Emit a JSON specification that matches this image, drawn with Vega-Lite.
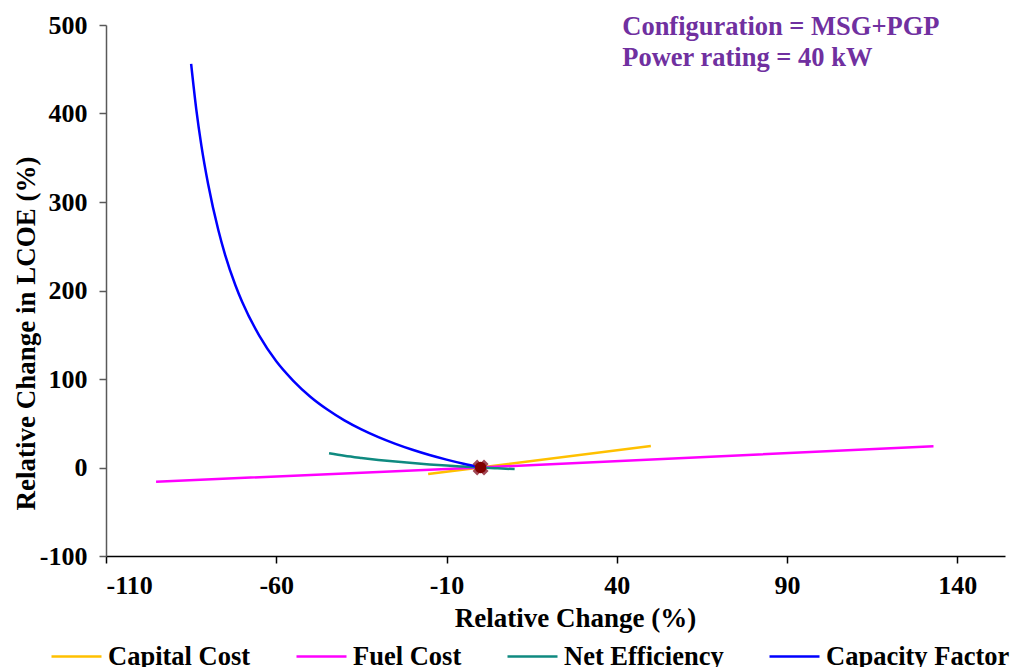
{
  "$schema": "https://vega.github.io/schema/vega-lite/v6.json",
  "width": 899,
  "height": 531,
  "autosize": {"type": "none"},
  "padding": {"left": 106, "top": 25, "right": 12, "bottom": 111},
  "background": "white",
  "config": {
    "view": {"stroke": null},
    "font": "Liberation Serif",
    "axis": {
      "labelFont": "Liberation Serif",
      "labelFontWeight": "bold",
      "labelFontSize": 26,
      "labelColor": "black",
      "titleFont": "Liberation Serif",
      "titleFontWeight": "bold",
      "titleFontSize": 27,
      "titleColor": "black",
      "grid": false,
      "tickSize": 7,
      "tickWidth": 1.5,
      "domainWidth": 1.5
    },
    "legend": {
      "labelFont": "Liberation Serif",
      "labelFontWeight": "bold",
      "labelFontSize": 26.5,
      "labelColor": "black",
      "labelLimit": 400
    }
  },
  "layer": [
    {
      "data": {
        "values": [
          {"series": "Capital Cost", "x": -15.4, "y": -7.3},
          {"series": "Capital Cost", "x": 0, "y": 0},
          {"series": "Capital Cost", "x": 50, "y": 24.3},
          {"series": "Fuel Cost", "x": -95.3, "y": -16},
          {"series": "Fuel Cost", "x": 0, "y": 0},
          {"series": "Fuel Cost", "x": 133, "y": 24},
          {"series": "Net Efficiency", "x": -44.5, "y": 16.2},
          {"series": "Net Efficiency", "x": -40, "y": 13.3},
          {"series": "Net Efficiency", "x": -35, "y": 10.8},
          {"series": "Net Efficiency", "x": -30, "y": 8.6},
          {"series": "Net Efficiency", "x": -25, "y": 6.7},
          {"series": "Net Efficiency", "x": -20, "y": 5.0},
          {"series": "Net Efficiency", "x": -15, "y": 3.5},
          {"series": "Net Efficiency", "x": -10, "y": 2.2},
          {"series": "Net Efficiency", "x": -5, "y": 1.05},
          {"series": "Net Efficiency", "x": 0, "y": 0},
          {"series": "Net Efficiency", "x": 5, "y": -0.95},
          {"series": "Net Efficiency", "x": 10, "y": -1.8},
          {"series": "Capacity Factor", "x": -85, "y": 456},
          {"series": "Capacity Factor", "x": -83.5, "y": 405},
          {"series": "Capacity Factor", "x": -82, "y": 364},
          {"series": "Capacity Factor", "x": -80, "y": 320},
          {"series": "Capacity Factor", "x": -77, "y": 268},
          {"series": "Capacity Factor", "x": -75, "y": 240},
          {"series": "Capacity Factor", "x": -72, "y": 206},
          {"series": "Capacity Factor", "x": -70, "y": 187},
          {"series": "Capacity Factor", "x": -65, "y": 149},
          {"series": "Capacity Factor", "x": -60, "y": 120},
          {"series": "Capacity Factor", "x": -55, "y": 98},
          {"series": "Capacity Factor", "x": -50, "y": 80},
          {"series": "Capacity Factor", "x": -45, "y": 65.5},
          {"series": "Capacity Factor", "x": -40, "y": 53.3},
          {"series": "Capacity Factor", "x": -35, "y": 43.1},
          {"series": "Capacity Factor", "x": -30, "y": 34.3},
          {"series": "Capacity Factor", "x": -25, "y": 26.7},
          {"series": "Capacity Factor", "x": -20, "y": 20},
          {"series": "Capacity Factor", "x": -15, "y": 14.1},
          {"series": "Capacity Factor", "x": -10, "y": 8.9},
          {"series": "Capacity Factor", "x": -5, "y": 4.2},
          {"series": "Capacity Factor", "x": 0, "y": 0}
        ]
      },
      "mark": {"type": "line", "strokeWidth": 2.5, "interpolate": "monotone"},
      "encoding": {
        "x": {
          "field": "x", "type": "quantitative",
          "scale": {"domain": [-110, 154], "nice": false, "zero": false},
          "axis": {
            "values": [-110, -60, -10, 40, 90, 140],
            "labelExpr": "toString(datum.value)",
            "title": "Relative Change (%)",
            "domainColor": "black",
            "tickColor": "black",
            "labelPadding": 9,
            "titleX": 469,
            "titleY": 62,
            "titleBaseline": "middle"
          }
        },
        "y": {
          "field": "y", "type": "quantitative",
          "scale": {"domain": [-100, 500], "nice": false, "zero": false},
          "axis": {
            "values": [-100, 0, 100, 200, 300, 400, 500],
            "labelExpr": "toString(datum.value)",
            "title": "Relative Change in LCOE (%)",
            "domainColor": "#595959",
            "tickColor": "#595959",
            "labelPadding": 12,
            "titleAngle": 270,
            "titleX": -80,
            "titleY": 308,
            "titleAlign": "center",
            "titleBaseline": "middle"
          }
        },
        "color": {
          "field": "series", "type": "nominal",
          "sort": ["Capital Cost", "Fuel Cost", "Net Efficiency", "Capacity Factor"],
          "scale": {
            "domain": ["Capital Cost", "Fuel Cost", "Net Efficiency", "Capacity Factor"],
            "range": ["#FFC000", "#FF00FF", "#0F8A80", "#0000FF"]
          },
          "legend": {
            "title": null,
            "orient": "none",
            "direction": "horizontal",
            "legendX": -56,
            "legendY": 605,
            "symbolType": "stroke",
            "symbolSize": 2500,
            "symbolStrokeWidth": 2.5,
            "labelOffset": 5,
            "columnPadding": 40
          }
        },
        "order": {"field": "x", "type": "quantitative"}
      }
    },
    {
      "data": {"values": [{"x": 0, "y": 0}]},
      "mark": {"type": "point", "shape": "cross", "angle": 45, "filled": true, "color": "#8B1A2A", "size": 260, "opacity": 0.8},
      "encoding": {
        "x": {"field": "x", "type": "quantitative"},
        "y": {"field": "y", "type": "quantitative"}
      }
    },
    {
      "data": {"values": [{"x": 0, "y": 0}]},
      "mark": {"type": "point", "shape": "circle", "filled": true, "color": "#7F0000", "size": 130, "opacity": 1},
      "encoding": {
        "x": {"field": "x", "type": "quantitative"},
        "y": {"field": "y", "type": "quantitative"}
      }
    },
    {
      "data": {
        "values": [
          {"label": "Configuration = MSG+PGP", "x": 41.6, "y": 489},
          {"label": "Power rating = 40 kW", "x": 41.6, "y": 454}
        ]
      },
      "mark": {"type": "text", "align": "left", "baseline": "alphabetic", "font": "Liberation Serif", "fontWeight": "bold", "fontSize": 26.5, "color": "#7030A0"},
      "encoding": {
        "x": {"field": "x", "type": "quantitative"},
        "y": {"field": "y", "type": "quantitative"},
        "text": {"field": "label"}
      }
    }
  ]
}
